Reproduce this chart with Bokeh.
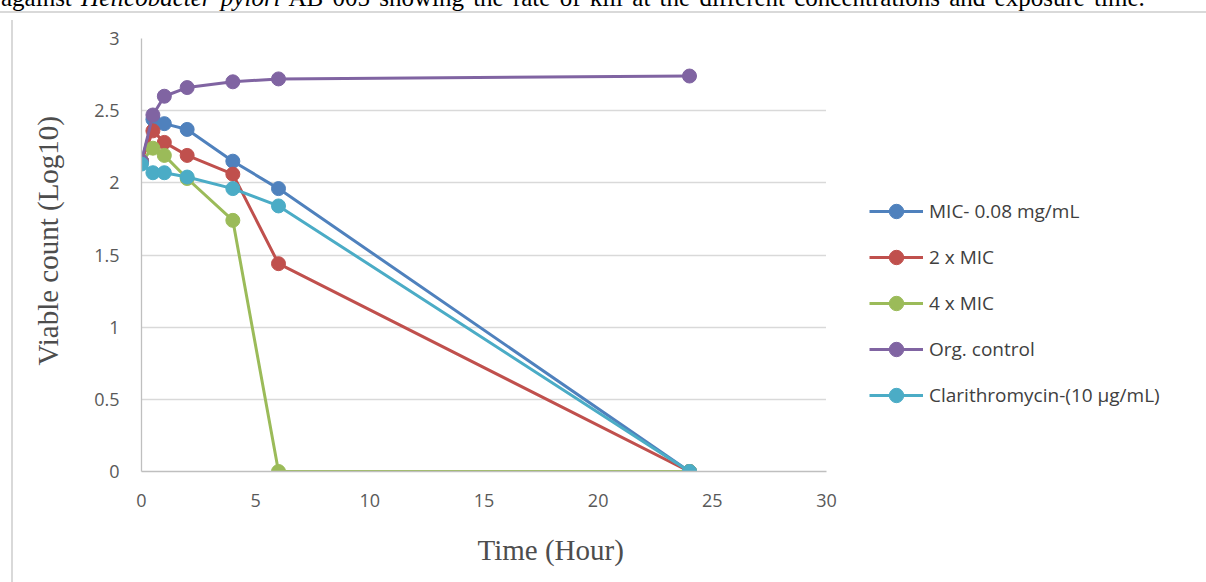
from bokeh.plotting import figure
from bokeh.models import Legend, LegendItem, Title, FixedTicker, Range1d, Div
from bokeh.layouts import column
from bokeh.embed import file_html
from bokeh.resources import INLINE

# ---- data ----
time_h = [0, 0.5, 1, 2, 4, 6, 24]
mic = [2.15, 2.44, 2.41, 2.37, 2.15, 1.96, 0]
mic2 = [2.15, 2.36, 2.28, 2.19, 2.06, 1.44, 0]
mic4 = [2.15, 2.24, 2.19, 2.03, 1.74, 0, 0]
control = [2.15, 2.47, 2.60, 2.66, 2.70, 2.72, 2.74]
clari = [2.13, 2.07, 2.07, 2.04, 1.96, 1.84, 0]

series_names = ["MIC- 0.08 mg/mL", "2 x MIC", "4 x MIC", "Org. control",
                "Clarithromycin-(10 \u00b5g/mL)"]
series_colors = ["#4F81BD", "#C0504D", "#9BBB59", "#8064A2", "#4BACC6"]

x_ticks = [0, 5, 10, 15, 20, 25, 30]
y_ticks = [0, 0.5, 1, 1.5, 2, 2.5, 3]
y_tick_labels = ["0", "0.5", "1", "1.5", "2", "2.5", "3"]

x_title = "Time (Hour)"
y_title = "Viable count (Log10)"
caption_html = ("against <i>Helicobacter pylori</i> AB 005 showing the rate of kill "
                "at the different concentrations and exposure time.")

# ---- layout (page pixels) ----
FL, FT, FR, FB = 141, 38, 826, 469      # plot frame edges on the page
CY = 13                                  # canvas top on the page (below top border)
LEG_PAD = 42

p = figure(frame_width=FR - FL, frame_height=FB - FT,
           output_backend="svg", toolbar_location=None,
           x_range=Range1d(0, 30), y_range=Range1d(0, 3),
           min_border_left=FL, min_border_top=FT - CY,
           min_border_right=377, min_border_bottom=108)
p.styles = {"border-top": "2px solid #D9D9D9"}
p.outline_line_color = None
p.background_fill_color = "white"
p.border_fill_color = "white"

p.xgrid.grid_line_color = None
p.ygrid.grid_line_color = "#D9D9D9"
p.ygrid.grid_line_width = 1.3

for ax in (p.xaxis[0], p.yaxis[0]):
    ax.axis_line_color = "#BFBFBF"
    ax.axis_line_width = 1.3
    ax.major_tick_line_color = None
    ax.minor_tick_line_color = None
    ax.major_tick_out = 0
    ax.major_tick_in = 0
    ax.major_label_text_font = "Open Sans"
    ax.major_label_text_font_size = "18px"
    ax.major_label_text_color = "#595959"
    ax.major_label_standoff = 22

p.xaxis.ticker = FixedTicker(ticks=x_ticks)
p.yaxis.ticker = FixedTicker(ticks=y_ticks)
p.yaxis.major_label_overrides = dict(zip(y_ticks, y_tick_labels))

all_series = [mic, mic2, mic4, control, clari]
items = []
for name, color, vals in zip(series_names, series_colors, all_series):
    r1 = p.line(time_h, vals, line_color=color, line_width=3)
    r2 = p.scatter(time_h, vals, size=14, fill_color=color, line_color=color)
    items.append(LegendItem(label=name, renderers=[r1, r2]))

legend = Legend(items=items, location="top_left", padding=LEG_PAD, margin=0,
                spacing=10, glyph_width=54, glyph_height=36, label_standoff=6,
                border_line_color="white", background_fill_color="white",
                title=" ", title_text_font_size="10px",
                title_standoff=193 - FT - LEG_PAD - 12,
                label_text_font="Open Sans", label_text_font_size="19px",
                label_text_color="#404040")
p.add_layout(legend, "right")

# axis titles
p.add_layout(Title(text=x_title, align="left", offset=551 - FL - 74, standoff=45,
                   text_font="Liberation Serif", text_font_size="29px",
                   text_font_style="normal", text_color="#4d4d4d"), "below")
p.add_layout(Title(text=y_title, align="left", offset=FB - 363, standoff=56,
                   text_font="Liberation Serif", text_font_size="29px",
                   text_font_style="normal", text_color="#4d4d4d"), "left")

# caption line above the chart (cut off by the top of the page)
cap = Div(text='<div style="font-family: \'Liberation Serif\'; font-size: 25px; '
               'line-height: 26px; white-space: nowrap; color: black; '
               'padding-left: 1px; word-spacing: 3px;">' + caption_html + '</div>',
          width=1200, height=26, margin=(-15, 0, 0, 0))

# light left border of the chart box, laid over the figure's left margin
left_line = Div(text='<div style="width: 2px; height: 570px; '
                     'background: #D9D9D9;"></div>',
                width=2, height=570, margin=(-566, 0, 0, 11))

layout = column(cap, p, left_line, spacing=0)
open("out.html", "w").write(file_html(layout, INLINE))
